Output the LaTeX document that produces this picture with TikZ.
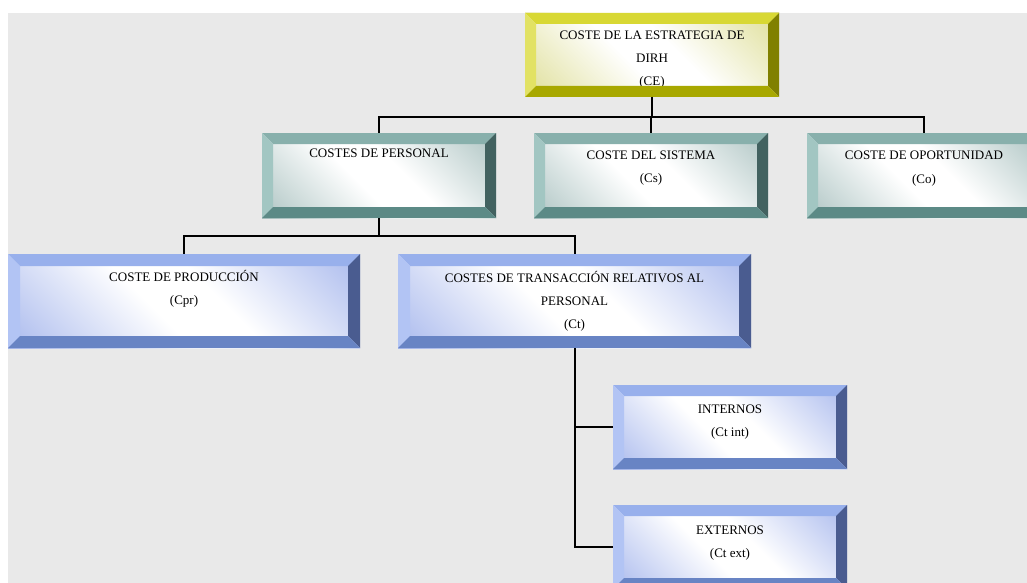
\documentclass[tikz,border=0pt]{standalone}
\usepackage{fontspec}
\setmainfont{Liberation Serif}
\usetikzlibrary{positioning}

\definecolor{bggray}{RGB}{233,233,233}
% yellow box
\definecolor{ytop}{RGB}{216,216,52}
\definecolor{yleft}{RGB}{226,226,100}
\definecolor{yright}{RGB}{128,128,0}
\definecolor{ybot}{RGB}{168,168,0}
\definecolor{yin}{RGB}{206,206,100}
% teal boxes
\definecolor{ttop}{RGB}{136,176,172}
\definecolor{tleft}{RGB}{162,198,194}
\definecolor{tright}{RGB}{66,98,96}
\definecolor{tbot}{RGB}{92,138,134}
\definecolor{tin}{RGB}{132,166,164}
% blue boxes
\definecolor{btop}{RGB}{152,176,236}
\definecolor{bleft}{RGB}{178,196,244}
\definecolor{bright}{RGB}{74,92,144}
\definecolor{bbot}{RGB}{104,132,196}
\definecolor{bin}{RGB}{126,150,228}

% inner faces: tint at two corners, white band in between
\pgfdeclareverticalshading{yshade}{100bp}{color(0bp)=(yin); color(44bp)=(white); color(56bp)=(white); color(100bp)=(yin)}
\pgfdeclareverticalshading{tshade}{100bp}{color(0bp)=(tin); color(44bp)=(white); color(56bp)=(white); color(100bp)=(tin)}
\pgfdeclareverticalshading{bshade}{100bp}{color(0bp)=(bin); color(44bp)=(white); color(56bp)=(white); color(100bp)=(bin)}

\tikzset{
  box/.style={rectangle, inner sep=0pt, outer sep=0pt, minimum width=234pt, minimum height=85pt},
  ybox/.style={box, shade, shading=yshade, shading angle=-45},
  tbox/.style={box, shade, shading=tshade, shading angle=-45},
  bbox/.style={box, shade, shading=bshade, shading angle=-45},
  boxtext/.style={anchor=north, inner sep=0pt, align=center,
    font=\fontsize{13}{23}\selectfont, execute at begin node={\rule{0pt}{12pt}}},
  link/.style={line width=2pt, black},
}

% bevel faces over a box: node, width, top, left, right, bottom
\newcommand\bevel[6]{%
  \fill[#3] (#1.north west) -- (#1.north east) -- ([shift={(-#2,#2)}]#1.north east) -- ([shift={(#2,#2)}]#1.north west) -- cycle;
  \fill[#4] (#1.north west) -- ([shift={(#2,#2)}]#1.north west) -- ([shift={(#2,-#2)}]#1.south west) -- (#1.south west) -- cycle;
  \fill[#5] (#1.north east) -- (#1.south east) -- ([shift={(-#2,-#2)}]#1.south east) -- ([shift={(-#2,#2)}]#1.north east) -- cycle;
  \fill[#6] (#1.south west) -- (#1.south east) -- ([shift={(-#2,-#2)}]#1.south east) -- ([shift={(#2,-#2)}]#1.south west) -- cycle;
}

\begin{document}
\begin{tikzpicture}[x=1pt, y=-1pt]
\path[use as bounding box, clip] (0,0) rectangle (1027,583);
\fill[bggray] (8,13) rectangle (1027,583);

% boxes
\node[ybox, minimum width=254pt, minimum height=84pt] (ce) at (652,55) {};
\node[tbox] (cp) at (379,175.5) {};
\node[tbox] (cs) at (651,175.5) {};
\node[tbox] (co) at (924,175.5) {};
\node[bbox, minimum width=352pt, minimum height=94pt] (cpr) at (184,301) {};
\node[bbox, minimum width=353pt, minimum height=94pt] (ct) at (574.5,301) {};
\node[bbox, minimum height=84pt] (cti) at (730,427) {};
\node[bbox, minimum height=84pt] (cte) at (730,547) {};

% texts
\node[boxtext] (ce-txt) at ([shift={(0,18)}]ce.north) {COSTE DE LA ESTRATEGIA DE\\DIRH\\(CE)};
\node[boxtext] (cp-txt) at ([shift={(0,12)}]cp.north) {COSTES DE PERSONAL};
\node[boxtext] (cs-txt) at ([shift={(0,18)}]cs.north) {COSTE DEL SISTEMA\\(Cs)};
\node[boxtext] (co-txt) at ([shift={(0,18)}]co.north) {COSTE DE OPORTUNIDAD\\[1pt](Co)};
\node[boxtext] (cpr-txt) at ([shift={(0,16)}]cpr.north) {COSTE DE PRODUCCIÓN\\(Cpr)};
\node[boxtext] (ct-txt) at ([shift={(0,17)}]ct.north) {COSTES DE TRANSACCIÓN RELATIVOS AL\\PERSONAL\\(Ct)};
\node[boxtext] (cti-txt) at ([shift={(0,20)}]cti.north) {INTERNOS\\(Ct int)};
\node[boxtext] (cte-txt) at ([shift={(0,21)}]cte.north) {EXTERNOS\\(Ct ext)};

% bevels
\bevel{ce}{11}{ytop}{yleft}{yright}{ybot}
\bevel{cp}{11}{ttop}{tleft}{tright}{tbot}
\bevel{cs}{11}{ttop}{tleft}{tright}{tbot}
\bevel{co}{11}{ttop}{tleft}{tright}{tbot}
\bevel{cpr}{12}{btop}{bleft}{bright}{bbot}
\bevel{ct}{12}{btop}{bleft}{bright}{bbot}
\bevel{cti}{11}{btop}{bleft}{bright}{bbot}
\bevel{cte}{11}{btop}{bleft}{bright}{bbot}

% connectors
\draw[link] (ce.south) -- ++(0,20) -| (cp.north);
\draw[link] (ce.south) -- ++(0,20) -| (cs.north);
\draw[link] (ce.south) -- ++(0,20) -| (co.north);
\draw[link] (cp.south) -- ++(0,18) -| (cpr.north);
\draw[link] (cp.south) -- ++(0,18) -| (ct.north);
\draw[link] (ct.south) |- (cti.west);
\draw[link] (ct.south) |- (cte.west);
\end{tikzpicture}
\end{document}
